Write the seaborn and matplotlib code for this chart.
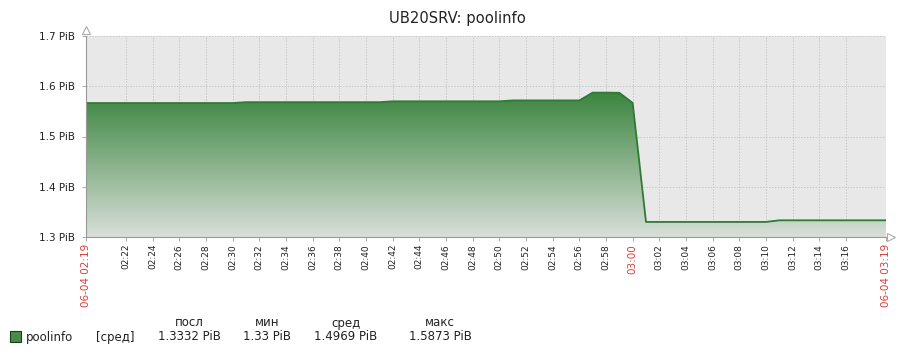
import numpy as np
import pandas as pd
import matplotlib
matplotlib.use("Agg")
import matplotlib.pyplot as plt
import matplotlib.dates as mdates
from matplotlib.colors import LinearSegmentedColormap
from matplotlib.patches import Rectangle
import seaborn as sns

# ---------------- data ----------------
title = "UB20SRV: poolinfo"
series_name = "poolinfo"
start_time = "2024-06-04 02:19"
values_pib = (
    [1.5666] * 12 +          # 02:19 - 02:30
    [1.5683] * 11 +          # 02:31 - 02:41
    [1.5700] * 9 +           # 02:42 - 02:50
    [1.5718] * 6 +           # 02:51 - 02:56
    [1.5873, 1.5873, 1.5870] +  # 02:57 - 02:59
    [1.5668] +               # 03:00
    [1.3300] * 10 +          # 03:01 - 03:10
    [1.3332] * 9             # 03:11 - 03:19
)
y_ticks = [1.3, 1.4, 1.5, 1.6, 1.7]
legend_headers = ["посл", "мин", "сред", "макс"]
legend_values = ["1.3332 PiB", "1.33 PiB", "1.4969 PiB", "1.5873 PiB"]
legend_func = "[сред]"

times = pd.date_range(start_time, periods=len(values_pib), freq="min")
df = pd.DataFrame({"time": times, "value": values_pib})

# ---------------- figure ----------------
sns.set_style("white")
plt.rcParams["font.family"] = ["DejaVu Sans"]
W, H = 916, 355
fig = plt.figure(figsize=(W / 100, H / 100), dpi=100)
L, R, T, B = 86, 886, 36, 237
ax = fig.add_axes([L / W, 1 - B / H, (R - L) / W, (B - T) / H])
ax.set_facecolor("#e8e8e8")

red = "#d9413c"
line_col = "#2f7a34"

# gradient fill
xnum = mdates.date2num(df["time"])
poly = ax.fill_between(df["time"], df["value"], 1.3, color="none", lw=0)
cmap = LinearSegmentedColormap.from_list("g", ["#d8dfd8", "#3b853f"])
grad = np.linspace(0, 1, 256).reshape(-1, 1)
im = ax.imshow(grad, cmap=cmap, aspect="auto", origin="lower",
               extent=[xnum[0], xnum[-1], 1.3, max(values_pib)], zorder=2)
path = poly.get_paths()[0]
im.set_clip_path(path, transform=ax.transData)

sns.lineplot(data=df, x="time", y="value", ax=ax, color=line_col, lw=1.3, zorder=3)

ax.set_xlim(times[0], times[-1])
ax.set_ylim(1.3, 1.7)

# ticks
tick_times = pd.date_range("2024-06-04 02:22", "2024-06-04 03:16", freq="2min")
all_ticks = [times[0]] + list(tick_times) + [times[-1]]
ax.set_xticks(all_ticks)
labels = []
for t in all_ticks:
    if t == times[0] or t == times[-1]:
        labels.append(t.strftime("%m-%d %H:%M"))
    else:
        labels.append(t.strftime("%H:%M"))
ax.set_xticklabels(labels, rotation=90, fontsize=6.5, color="#222222")
for lbl, t in zip(ax.get_xticklabels(), all_ticks):
    if t == times[0] or t == times[-1]:
        lbl.set_color(red)
        lbl.set_fontsize(7.5)
    elif t.minute == 0:
        lbl.set_color(red)
        lbl.set_fontsize(7.5)

ax.set_yticks(y_ticks)
ax.set_yticklabels([f"{v:.1f} PiB" for v in y_ticks], fontsize=7.5, color="#222222")
ax.tick_params(axis="y", length=3, width=0.6, color="#999999", pad=5, left=True)
ax.tick_params(axis="x", length=3, width=0.6, color="#999999", pad=2, bottom=True)
ax.set_xlabel("")
ax.set_ylabel("")

ax.grid(True, color="#c8c8c8", ls=(0, (1.5, 1.5)), lw=0.7, zorder=1)
ax.set_axisbelow(True)
for s in ["top", "right"]:
    ax.spines[s].set_visible(False)
for s in ["left", "bottom"]:
    ax.spines[s].set_color("#999999")
    ax.spines[s].set_linewidth(0.8)
    ax.spines[s].set_zorder(5)

# axis arrows
ax.plot([0], [1.03], marker="^", ms=6, mfc="white", mec="#aaaaaa", mew=0.8,
        transform=ax.transAxes, clip_on=False)
ax.plot([1.006], [0], marker=">", ms=6, mfc="white", mec="#aaaaaa", mew=0.8,
        transform=ax.transAxes, clip_on=False)

# title
fig.text(457 / W, 1 - 18 / H, title, ha="center", va="center", fontsize=10.6, color="#222222")

# legend
ly = 1 - 337 / H
hy = 1 - 323 / H
fig.patches.append(Rectangle((10 / W, 1 - 342 / H), 11 / W, 11 / H,
                             transform=fig.transFigure, facecolor="#4a8a4a",
                             edgecolor="#1e3d1e", lw=0.8))
fig.text(26 / W, ly, series_name, ha="left", va="center", fontsize=8.5, color="#222222")
fig.text(115 / W, ly, legend_func, ha="center", va="center", fontsize=8.5, color="#222222")
cols = [189, 267, 346, 440]
for cx, h, v in zip(cols, legend_headers, legend_values):
    fig.text(cx / W, hy, h, ha="center", va="center", fontsize=8.5, color="#222222")
    fig.text(cx / W, ly, v, ha="center", va="center", fontsize=8.5, color="#222222")

fig.savefig("out.png", dpi=100, facecolor="white")
